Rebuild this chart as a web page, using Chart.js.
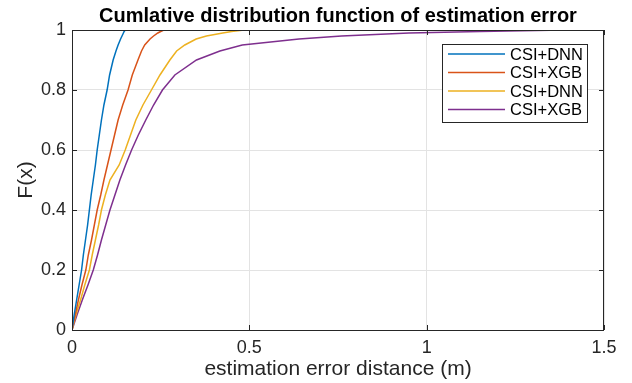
<!DOCTYPE html>
<html>
<head>
<meta charset="utf-8">
<script src="https://cdn.jsdelivr.net/npm/chart.js@4/dist/chart.umd.min.js"></script>
<style>
  html, body { margin: 0; padding: 0; background: #fff; }
  #wrap { width: 632px; height: 383px; }
</style>
</head>
<body>
<div id="wrap"><canvas id="cdf"></canvas></div>
<script>
// CDF levels (y) shared by all curves, and error distance (m) read at each level
const cdfLevels = [0, 0.05, 0.1, 0.15, 0.2, 0.25, 0.3, 0.35, 0.4, 0.45, 0.5, 0.55, 0.6, 0.65, 0.7, 0.75, 0.8, 0.85, 0.9, 0.93, 0.95, 0.97, 0.98, 0.99, 0.995, 1]
const dnnA = [0, 0.006, 0.013, 0.020, 0.027, 0.032, 0.038, 0.044, 0.049, 0.054, 0.060, 0.066, 0.071, 0.077, 0.083, 0.090, 0.099, 0.106, 0.116, 0.124, 0.130, 0.137, 0.141, 0.145, 0.147, 0.150]
const xgbA = [0, 0.009, 0.018, 0.028, 0.039, 0.046, 0.055, 0.063, 0.071, 0.081, 0.090, 0.100, 0.110, 0.120, 0.130, 0.143, 0.158, 0.170, 0.186, 0.196, 0.205, 0.220, 0.230, 0.242, 0.250, 0.259]
const dnnB = [0, 0.011, 0.024, 0.036, 0.049, 0.057, 0.066, 0.075, 0.083, 0.094, 0.107, 0.133, 0.150, 0.165, 0.180, 0.200, 0.224, 0.248, 0.276, 0.295, 0.318, 0.350, 0.379, 0.425, 0.450, 0.485]
const xgbB = [0, 0.014, 0.029, 0.045, 0.060, 0.072, 0.083, 0.095, 0.107, 0.121, 0.135, 0.151, 0.168, 0.187, 0.208, 0.230, 0.255, 0.290, 0.351, 0.417, 0.480, 0.640, 0.760, 0.950, 1.150, 1.390]

const seriesNames = ['CSI+DNN', 'CSI+XGB', 'CSI+DNN', 'CSI+XGB']
const seriesColors = ['#0072BD', '#D95319', '#EDB120', '#7E2F8E']
const xTicks = [0, 0.5, 1, 1.5]
const yTicks = [0, 0.2, 0.4, 0.6, 0.8, 1]
const chartTitle = 'Cumlative distribution function of estimation error'

const FONT = '"Liberation Sans", Arial, Helvetica, sans-serif'
const AXIS = '#262626'

function toPoints(xs) {
  return xs.map((x, i) => ({ x: x, y: cdfLevels[i] }))
}

// matlab style box with inward ticks, title over the axes, legend top right
const matlabBox = {
  id: 'matlabBox',
  afterDatasetsDraw(chart) {
    const { ctx, chartArea: a, scales } = chart
    ctx.save()
    ctx.strokeStyle = AXIS
    ctx.lineWidth = 1
    ctx.strokeRect(a.left + 0.5, a.top + 0.5, a.right - a.left - 1, a.bottom - a.top)
    const t = 5
    ctx.beginPath()
    xTicks.forEach(v => {
      const px = Math.round(scales.x.getPixelForValue(v)) + 0.5
      ctx.moveTo(px, a.bottom); ctx.lineTo(px, a.bottom - t)
      ctx.moveTo(px, a.top); ctx.lineTo(px, a.top + t)
    })
    yTicks.forEach(v => {
      const py = Math.round(scales.y.getPixelForValue(v)) + 0.5
      ctx.moveTo(a.left, py); ctx.lineTo(a.left + t, py)
      ctx.moveTo(a.right, py); ctx.lineTo(a.right - t, py)
    })
    ctx.stroke()

    // title centred over the axes
    ctx.fillStyle = '#000'
    ctx.font = 'bold 20px ' + FONT
    ctx.textAlign = 'center'
    ctx.textBaseline = 'alphabetic'
    ctx.fillText(chartTitle, (a.left + a.right) / 2, 22)

    // legend
    const lx = 442, ly = 44, lw = 145, lh = 78
    ctx.fillStyle = '#fff'
    ctx.fillRect(lx, ly, lw, lh)
    ctx.strokeStyle = AXIS
    ctx.strokeRect(lx + 0.5, ly + 0.5, lw, lh)
    ctx.font = '16.5px ' + FONT
    ctx.textBaseline = 'middle'
    ctx.textAlign = 'left'
    chart.data.datasets.forEach((ds, i) => {
      const y = ly + 10 + i * 18.5
      ctx.strokeStyle = ds.borderColor
      ctx.lineWidth = 1.5
      ctx.beginPath()
      ctx.moveTo(lx + 6, y); ctx.lineTo(lx + 63, y)
      ctx.stroke()
      ctx.fillStyle = '#000'
      ctx.fillText(ds.label, lx + 68, y + 1)
    })
    ctx.restore()
  }
}

new Chart(document.getElementById('cdf'), {
  type: 'line',
  data: {
    datasets: [
      { label: seriesNames[0], data: toPoints(dnnA), borderColor: seriesColors[0] },
      { label: seriesNames[1], data: toPoints(xgbA), borderColor: seriesColors[1] },
      { label: seriesNames[2], data: toPoints(dnnB), borderColor: seriesColors[2] },
      { label: seriesNames[3], data: toPoints(xgbB), borderColor: seriesColors[3] }
    ]
  },
  options: {
    responsive: true,
    maintainAspectRatio: false,
    animation: false,
    layout: { padding: { left: 0, right: 28, top: 30, bottom: 0 } },
    elements: {
      point: { radius: 0 },
      line: { borderWidth: 1.5, tension: 0, fill: false }
    },
    plugins: {
      legend: { display: false },
      tooltip: { enabled: false },
      title: { display: false }
    },
    scales: {
      x: {
        type: 'linear',
        min: 0, max: 1.5,
        afterFit(s) { s.height = 53 },
        afterBuildTicks(s) { s.ticks = xTicks.map(v => ({ value: v })) },
        grid: { color: '#e3e3e3', drawTicks: false },
        border: { display: false },
        ticks: { color: AXIS, padding: 7, font: { family: FONT, size: 18 }, maxRotation: 0, callback: v => String(+v) },
        title: { display: true, text: 'estimation error distance (m)', color: AXIS, font: { family: FONT, size: 21 }, padding: { top: 0, bottom: 1 } }
      },
      y: {
        type: 'linear',
        min: 0, max: 1,
        afterFit(s) { s.width = 72 },
        afterBuildTicks(s) { s.ticks = yTicks.map(v => ({ value: v })) },
        grid: { color: '#e3e3e3', drawTicks: false },
        border: { display: false },
        ticks: { color: AXIS, padding: 6, font: { family: FONT, size: 18 }, callback: v => String(+v) },
        title: { display: true, text: 'F(x)', color: AXIS, font: { family: FONT, size: 21 }, padding: { top: 14 } }
      }
    }
  },
  plugins: [matlabBox]
});
</script>
</body>
</html>
